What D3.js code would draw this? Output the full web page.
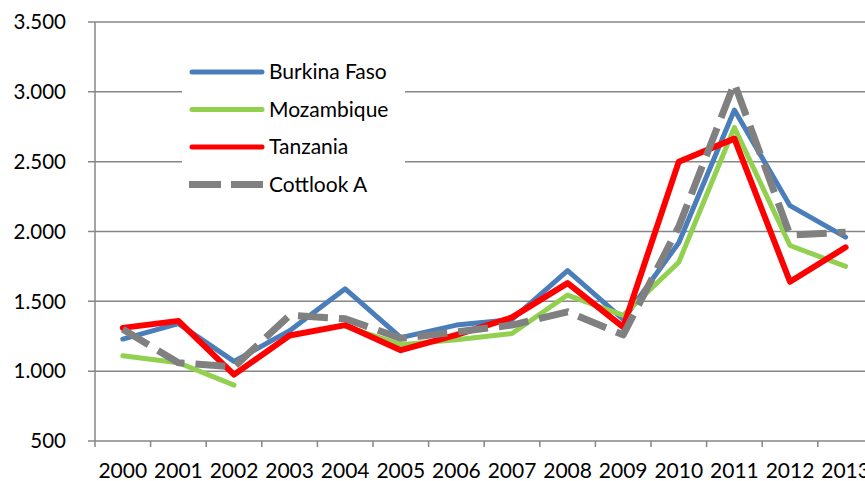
<!DOCTYPE html>
<html>
<head>
<meta charset="utf-8">
<script src="https://cdn.jsdelivr.net/npm/d3@7"></script>
<style>
  body { margin: 0; background: #fff; }
  svg { display: block; font-family: Lato, "Open Sans", sans-serif; }
</style>
</head>
<body>
<svg id="chart"></svg>
<script>
const years = ["2000", "2001", "2002", "2003", "2004", "2005", "2006", "2007", "2008", "2009", "2010", "2011", "2012", "2013"];
const yTicks = [500, 1000, 1500, 2000, 2500, 3000, 3500];
const burkinaFaso = [1230, 1340, 1070, 1290, 1590, 1240, 1330, 1370, 1720, 1370, 1920, 2870, 2185, 1960];
const mozambique = [1110, 1060, 900, null, 1320, 1190, 1225, 1270, 1545, 1400, 1780, 2745, 1900, 1750];
const tanzania = [1310, 1360, 975, 1255, 1330, 1150, 1260, 1385, 1630, 1315, 2500, 2665, 1640, 1887];
const cottlookA = [1300, 1060, 1030, 1400, 1375, 1235, 1280, 1330, 1425, 1260, 2035, 3060, 1975, 1995];

const seriesNames = ["Burkina Faso", "Mozambique", "Tanzania", "Cottlook A"];
const seriesValues = [burkinaFaso, mozambique, tanzania, cottlookA];
const seriesColors = ["#4A7EBB", "#92D050", "#FF0000", "#808080"];
const seriesWidths = [5, 5, 6, 7];
const seriesDash = [null, null, null, "30,11"];

const width = 865, height = 481;
const margin = { top: 22, left: 95, bottom: 40 };

const svg = d3.select("#chart").attr("width", width).attr("height", height);

const x = d3.scaleBand().domain(years).range([margin.left, margin.left + 14 * 55.6]);
const y = d3.scaleLinear().domain([500, 3500]).range([height - margin.bottom, margin.top]);
const fmt = (d) => d3.format(",")(d).replace(",", ".");

// gridlines
svg.append("g")
  .selectAll("line")
  .data(yTicks)
  .join("line")
  .attr("x1", margin.left - 7)
  .attr("x2", width)
  .attr("y1", (d) => y(d))
  .attr("y2", (d) => y(d))
  .style("stroke", "#868686")
  .style("stroke-width", 1.5);

// y axis
svg.append("line")
  .attr("x1", margin.left).attr("x2", margin.left)
  .attr("y1", y(3500)).attr("y2", y(500))
  .style("stroke", "#868686").style("stroke-width", 1.5);

svg.append("g")
  .selectAll("text")
  .data(yTicks)
  .join("text")
  .attr("x", 66)
  .attr("y", (d) => y(d))
  .attr("dy", "0.35em")
  .attr("text-anchor", "end")
  .style("font-size", "20.5px")
  .style("fill", "#000")
  .text(fmt);

// x axis ticks and labels
svg.append("g")
  .selectAll("line")
  .data(years.concat(["end"]))
  .join("line")
  .attr("x1", (d, i) => margin.left + i * x.bandwidth())
  .attr("x2", (d, i) => margin.left + i * x.bandwidth())
  .attr("y1", y(500))
  .attr("y2", y(500) + 6)
  .style("stroke", "#868686")
  .style("stroke-width", 1.5);

svg.append("g")
  .selectAll("text")
  .data(years)
  .join("text")
  .attr("x", (d) => x(d) + x.bandwidth() / 2)
  .attr("y", 478)
  .attr("text-anchor", "middle")
  .style("font-size", "21px")
  .style("fill", "#000")
  .text((d) => d);

// legend box
const legend = svg.append("g");
legend.append("rect")
  .attr("x", 182).attr("y", 45)
  .attr("width", 223).attr("height", 165)
  .style("fill", "#fff");

// series lines
const line = d3.line()
  .defined((d) => d != null)
  .x((d, i) => x(years[i]) + x.bandwidth() / 2)
  .y((d) => y(d));

seriesValues.forEach((vals, k) => {
  svg.append("path")
    .datum(vals)
    .attr("d", line)
    .style("fill", "none")
    .style("stroke", seriesColors[k])
    .style("stroke-width", seriesWidths[k])
    .style("stroke-linejoin", "round")
    .style("stroke-linecap", seriesDash[k] ? "butt" : "round")
    .style("stroke-dasharray", seriesDash[k]);
});

// legend entries
const items = legend.selectAll("g.item")
  .data(seriesNames)
  .join("g")
  .attr("class", "item")
  .attr("transform", (d, i) => `translate(0,${72 + i * 37.5})`);

items.append("line")
  .attr("x1", (d, i) => (seriesDash[i] ? 189 : 192))
  .attr("x2", (d, i) => (seriesDash[i] ? 263 : 262))
  .style("stroke", (d, i) => seriesColors[i])
  .style("stroke-width", (d, i) => (seriesDash[i] ? 7 : 5))
  .style("stroke-linecap", (d, i) => (seriesDash[i] ? "butt" : "round"))
  .style("stroke-dasharray", (d, i) => (seriesDash[i] ? "32,10" : null));

items.append("text")
  .attr("x", 269)
  .attr("dy", "0.35em")
  .style("font-size", "21px")
  .style("fill", "#000")
  .text((d) => d);
</script>
</body>
</html>
